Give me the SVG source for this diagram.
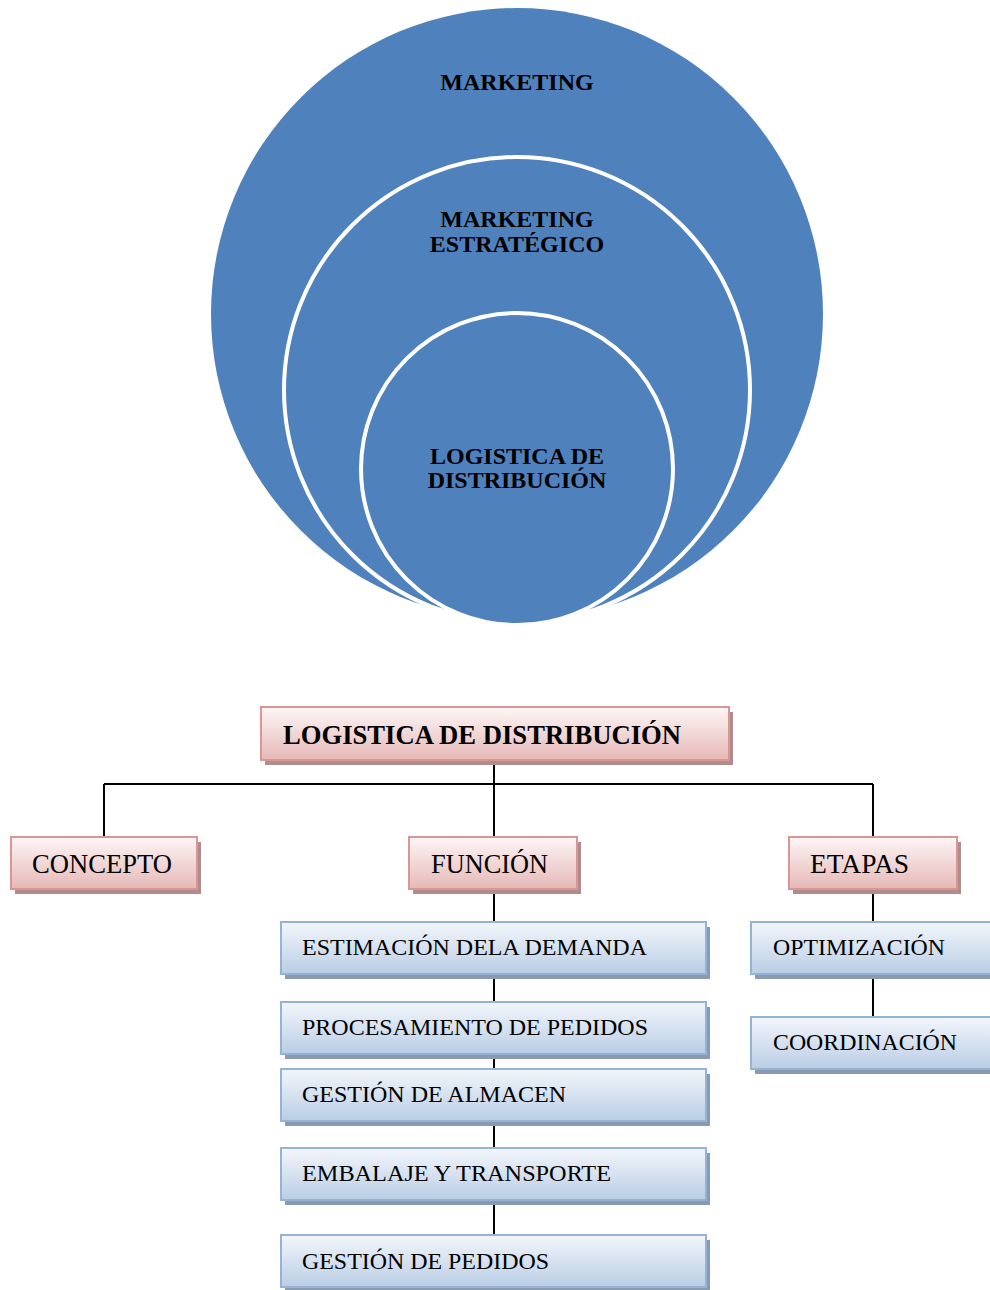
<svg xmlns="http://www.w3.org/2000/svg" width="990" height="1290" viewBox="0 0 990 1290">
<style>
.ct{font-family:"Liberation Serif","Times New Roman",serif;font-weight:bold;font-size:24px;fill:#000;text-anchor:middle}
.ring{fill:#4f81bd;stroke:#fff;stroke-width:4}
.pk{fill:url(#gp);stroke:#d99694;stroke-width:2}
.bl{fill:url(#gb);stroke:#95b3d7;stroke-width:2}
.shp{fill:#b08c8c}
.shb{fill:#8a9bb0}
.t{font-family:"Liberation Serif","Times New Roman",serif;font-size:26.5px;fill:#000}
.tb{font-family:"Liberation Serif","Times New Roman",serif;font-size:24px;fill:#000}
.ln{stroke:#000;stroke-width:2;fill:none}
</style>
<defs>
<linearGradient id="gp" x1="0" y1="0" x2="0" y2="1">
<stop offset="0" stop-color="#fdf6f6"/><stop offset="1" stop-color="#e6b8b7"/>
</linearGradient>
<linearGradient id="gb" x1="0" y1="0" x2="0" y2="1">
<stop offset="0" stop-color="#f3f6fb"/><stop offset="1" stop-color="#b9cde5"/>
</linearGradient>
</defs>
<rect width="990" height="1290" fill="#fff"/>
<g id="venn">
<circle id="c-marketing" cx="517" cy="314" r="306" fill="#4f81bd"/>
<circle id="c-estrategico" class="ring" cx="517" cy="390" r="233"/>
<circle id="c-logistica" class="ring" cx="517" cy="469" r="156"/>
<text class="ct" x="517" y="90">MARKETING</text>
<text class="ct" x="517" y="227">MARKETING</text>
<text class="ct" x="517" y="252">ESTRATÉGICO</text>
<text class="ct" x="517" y="464">LOGISTICA DE</text>
<text class="ct" x="517" y="488">DISTRIBUCIÓN</text>
</g>
<g id="connectors">
<path class="ln" d="M494 760V784M104 784H873M104 784V837M494 784V837M873 784V837"/>
<path class="ln" d="M494 888V1235"/>
<path class="ln" d="M873 888V1017"/>
</g>
<g id="n-root">
<rect class="shp" x="265" y="712" width="468" height="53"/>
<rect class="pk" x="261" y="707" width="468" height="53"/>
<text class="t" x="283" y="744" font-weight="bold" font-size="27" textLength="398" lengthAdjust="spacingAndGlyphs">LOGISTICA DE DISTRIBUCIÓN</text>
</g>
<g id="n-concepto">
<rect class="shp" x="15" y="842" width="186" height="52"/>
<rect class="pk" x="11" y="837" width="186" height="52"/>
<text class="t" x="32" y="873" textLength="140" lengthAdjust="spacingAndGlyphs">CONCEPTO</text>
</g>
<g id="n-funcion">
<rect class="shp" x="413" y="842" width="168" height="52"/>
<rect class="pk" x="409" y="837" width="168" height="52"/>
<text class="t" x="431" y="873" textLength="117" lengthAdjust="spacingAndGlyphs">FUNCIÓN</text>
</g>
<g id="n-etapas">
<rect class="shp" x="793" y="842" width="168" height="52"/>
<rect class="pk" x="789" y="837" width="168" height="52"/>
<text class="t" x="810" y="873" textLength="99" lengthAdjust="spacingAndGlyphs">ETAPAS</text>
</g>
<g id="n-estimacion">
<rect class="shb" x="285" y="927" width="425" height="52"/>
<rect class="bl" x="281" y="922" width="425" height="52"/>
<text class="tb" x="302" y="955" textLength="345" lengthAdjust="spacingAndGlyphs">ESTIMACIÓN DELA DEMANDA</text>
</g>
<g id="n-procesamiento">
<rect class="shb" x="285" y="1007" width="425" height="52"/>
<rect class="bl" x="281" y="1002" width="425" height="52"/>
<text class="tb" x="302" y="1035" textLength="346" lengthAdjust="spacingAndGlyphs">PROCESAMIENTO DE PEDIDOS</text>
</g>
<g id="n-almacen">
<rect class="shb" x="285" y="1074" width="425" height="52"/>
<rect class="bl" x="281" y="1069" width="425" height="52"/>
<text class="tb" x="302" y="1102" textLength="264" lengthAdjust="spacingAndGlyphs">GESTIÓN DE ALMACEN</text>
</g>
<g id="n-embalaje">
<rect class="shb" x="285" y="1153" width="425" height="52"/>
<rect class="bl" x="281" y="1148" width="425" height="52"/>
<text class="tb" x="302" y="1181" textLength="309" lengthAdjust="spacingAndGlyphs">EMBALAJE Y TRANSPORTE</text>
</g>
<g id="n-pedidos">
<rect class="shb" x="285" y="1240" width="425" height="52"/>
<rect class="bl" x="281" y="1235" width="425" height="52"/>
<text class="tb" x="302" y="1269" textLength="247" lengthAdjust="spacingAndGlyphs">GESTIÓN DE PEDIDOS</text>
</g>
<g id="n-optimizacion">
<rect class="shb" x="755" y="927" width="260" height="52"/>
<rect class="bl" x="751" y="922" width="260" height="52"/>
<text class="tb" x="773" y="955" textLength="172" lengthAdjust="spacingAndGlyphs">OPTIMIZACIÓN</text>
</g>
<g id="n-coordinacion">
<rect class="shb" x="755" y="1022" width="260" height="52"/>
<rect class="bl" x="751" y="1017" width="260" height="52"/>
<text class="tb" x="773" y="1050" textLength="184" lengthAdjust="spacingAndGlyphs">COORDINACIÓN</text>
</g>
</svg>
